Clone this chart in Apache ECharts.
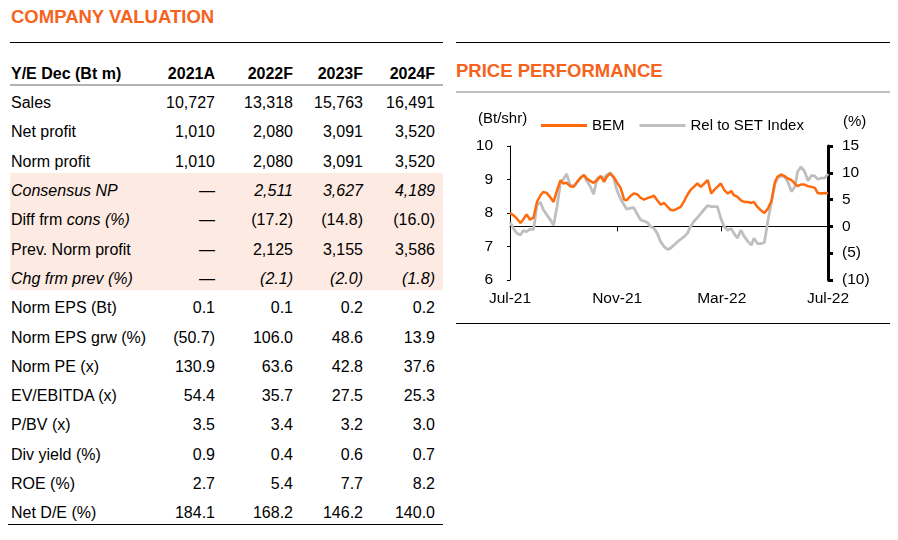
<!DOCTYPE html>
<html>
<head>
<meta charset="utf-8">
<script src="https://cdn.jsdelivr.net/npm/echarts@6/dist/echarts.min.js"></script>
<style>
  body { margin: 0; background: #fff; }
  #page { position: relative; width: 898px; height: 540px; overflow: hidden;
          font-family: "Liberation Sans", Arial, sans-serif; color: #000; }
  .title { position: absolute; font-weight: bold; font-size: 18.5px; color: #F5631D; line-height: 20px; }
  .hline { position: absolute; height: 0; }
  .row { position: absolute; left: 10px; width: 433px; height: 29.3px; line-height: 29.3px;
         padding-top: 3px; box-sizing: border-box; font-size: 16px; white-space: nowrap; }
  .row span { position: absolute; top: 3px; }
  .row .lbl { left: 1px; }
  .row .num { width: 100px; text-align: right; }
  .shade { position: absolute; left: 10px; width: 433px; background: #FDEAE2; }
  #chart { position: absolute; left: 455px; top: 92px; width: 443px; height: 230px; }
</style>
</head>
<body>
<div id="page">
  <div class="title" style="left:11px;top:7px;">COMPANY VALUATION</div>
  <div class="hline" style="left:10px;width:433px;top:42px;border-top:1px solid #000;"></div>
  <div class="title" style="left:456px;top:61px;">PRICE PERFORMANCE</div>
  <div class="hline" style="left:456px;width:434px;top:42px;border-top:1px solid #000;"></div>
  <div class="hline" style="left:456px;width:434px;top:91px;border-top:2px solid #BFBFBF;"></div>
  <div class="hline" style="left:456px;width:434px;top:323px;border-top:1px solid #000;"></div>
  <div id="table"></div>
  <div class="hline" style="left:10px;width:433px;top:84px;border-top:2px solid #B3B3B3;"></div>
  <div class="hline" style="left:8px;width:435px;top:524px;border-top:1px solid #000;"></div>
  <div id="chart"></div>
</div>
<script>
// ---- table data ----
const headers = ['Y/E Dec (Bt m)', '2021A', '2022F', '2023F', '2024F'];
const rowLabels = ['Sales', 'Net profit', 'Norm profit', 'Consensus NP', 'Diff frm <i>cons (%)</i>',
  'Prev. Norm profit', 'Chg frm prev (%)', 'Norm EPS (Bt)', 'Norm EPS grw (%)', 'Norm PE (x)',
  'EV/EBITDA (x)', 'P/BV (x)', 'Div yield (%)', 'ROE (%)', 'Net D/E (%)'];
const y2021 = ['10,727', '1,010', '1,010', '—', '—', '—', '—', '0.1', '(50.7)', '130.9', '54.4', '3.5', '0.9', '2.7', '184.1'];
const y2022 = ['13,318', '2,080', '2,080', '2,511', '(17.2)', '2,125', '(2.1)', '0.1', '106.0', '63.6', '35.7', '3.4', '0.4', '5.4', '168.2'];
const y2023 = ['15,763', '3,091', '3,091', '3,627', '(14.8)', '3,155', '(2.0)', '0.2', '48.6', '42.8', '27.5', '3.2', '0.6', '7.7', '146.2'];
const y2024 = ['16,491', '3,520', '3,520', '4,189', '(16.0)', '3,586', '(1.8)', '0.2', '13.9', '37.6', '25.3', '3.0', '0.7', '8.2', '140.0'];
const shadedRows = [3, 4, 5, 6];
const italicRows = [3, 6];

// ---- chart data ----
const dates = [
  '2021-07-01', '2021-07-05', '2021-07-09', '2021-07-13', '2021-07-16', '2021-07-20', '2021-07-24', '2021-07-28',
  '2021-08-01', '2021-08-05', '2021-08-08', '2021-08-12', '2021-08-16', '2021-08-20', '2021-08-24', '2021-08-28',
  '2021-08-31', '2021-09-04', '2021-09-08', '2021-09-12', '2021-09-16', '2021-09-20', '2021-09-24', '2021-09-27',
  '2021-10-01', '2021-10-05', '2021-10-09', '2021-10-13', '2021-10-17', '2021-10-20', '2021-10-24', '2021-10-28',
  '2021-11-01', '2021-11-05', '2021-11-09', '2021-11-12', '2021-11-16', '2021-11-20', '2021-11-24', '2021-11-28',
  '2021-12-02', '2021-12-06', '2021-12-09', '2021-12-13', '2021-12-17', '2021-12-21', '2021-12-25', '2021-12-29',
  '2022-01-01', '2022-01-05', '2022-01-09', '2022-01-13', '2022-01-17', '2022-01-21', '2022-01-24', '2022-01-28',
  '2022-02-01', '2022-02-05', '2022-02-09', '2022-02-13', '2022-02-17', '2022-02-20', '2022-02-24', '2022-02-28',
  '2022-03-04', '2022-03-08', '2022-03-12', '2022-03-15', '2022-03-19', '2022-03-23', '2022-03-27', '2022-03-31',
  '2022-04-04', '2022-04-07', '2022-04-11', '2022-04-15', '2022-04-19', '2022-04-23', '2022-04-27', '2022-05-01',
  '2022-05-04', '2022-05-08', '2022-05-12', '2022-05-16', '2022-05-20', '2022-05-24', '2022-05-27', '2022-05-31',
  '2022-06-04', '2022-06-08', '2022-06-12', '2022-06-16', '2022-06-19', '2022-06-23', '2022-06-27', '2022-07-01'
];
const bem = [
  8.00, 7.93, 7.83, 7.70, 7.80, 7.96, 7.80, 7.87, 8.33, 8.53,
  8.63, 8.60, 8.48, 8.33, 8.68, 8.98, 8.88, 8.90, 8.80, 8.78,
  8.93, 9.06, 9.13, 9.03, 8.96, 8.90, 8.98, 9.10, 8.93, 9.08,
  9.18, 9.08, 8.90, 8.75, 8.40, 8.38, 8.50, 8.58, 8.56, 8.45,
  8.40, 8.45, 8.47, 8.52, 8.38, 8.25, 8.30, 8.18, 8.10, 8.08,
  8.13, 8.18, 8.36, 8.56, 8.68, 8.78, 8.88, 8.78, 8.88, 8.98,
  8.58, 8.68, 8.78, 8.88, 8.68, 8.58, 8.66, 8.53, 8.48, 8.38,
  8.33, 8.33, 8.30, 8.33, 8.18, 8.08, 8.00, 8.13, 8.35, 8.92,
  9.08, 9.15, 9.10, 9.03, 8.98, 8.88, 8.80, 8.85, 8.85, 8.80,
  8.78, 8.75, 8.60, 8.58, 8.60, 8.58
];
const relSet = [
  0.8, -0.4, -1.3, -1.6, -0.8, -1.0, -0.5, -0.6, 4.0, 4.5,
  3.2, 2.2, 1.3, 0.2, 3.7, 8.3, 8.7, 9.8, 7.7, 7.5,
  8.2, 9.0, 9.6, 8.5, 7.5, 6.0, 9.0, 9.3, 9.0, 9.6,
  10.0, 9.0, 6.6, 5.1, 4.0, 3.2, 3.4, 3.5, 2.3, 1.2,
  1.0, 0.7, 0.0, -0.3, -1.3, -2.9, -3.8, -4.3, -4.1, -3.5,
  -2.9, -2.4, -1.9, -1.2, -0.1, 0.9, 1.6, 2.4, 3.2, 3.9,
  3.7, 3.7, 3.7, 1.5, -0.1, -0.7, -0.4, -1.3, -2.2, -0.7,
  -1.9, -2.8, -3.5, -2.2, -3.2, -3.2, -3.0, 1.0, 4.5, 7.8,
  9.0, 9.4, 9.3, 8.3, 6.5, 7.4, 10.2, 11.1, 10.3, 8.5,
  9.5, 9.4, 8.8, 9.0, 9.0, 9.8
];
const xTicks = ['2021-07-01', '2021-11-01', '2022-03-01', '2022-07-01'];
const xTickLabels = ['Jul-21', 'Nov-21', 'Mar-22', 'Jul-22'];

// ---- build table ----
const colRight = [215, 293, 363, 435];
const rowTop = k => 85.1 + k * 29.3;
let html = '';
html += '<div class="shade" style="top:' + rowTop(shadedRows[0]).toFixed(1) + 'px;height:' +
  (shadedRows.length * 29.3).toFixed(1) + 'px;"></div>';
const cell = (text, col, style) =>
  '<span class="num" style="left:' + (colRight[col] - 10 - 100) + 'px;' + (style || '') + '">' + text + '</span>';
html += '<div class="row" style="top:' + (rowTop(-1) + 0.6).toFixed(1) + 'px;font-weight:bold;">' +
  '<span class="lbl">' + headers[0] + '</span>' +
  headers.slice(1).map((h, i) => cell(h, i)).join('') + '</div>';
rowLabels.forEach((label, k) => {
  const it = italicRows.indexOf(k) >= 0 ? 'font-style:italic;' : '';
  html += '<div class="row" style="top:' + rowTop(k).toFixed(1) + 'px;' + it + '">' +
    '<span class="lbl">' + label + '</span>' +
    cell(y2021[k], 0, y2021[k] === '—' ? 'font-style:normal;' : '') + cell(y2022[k], 1) +
    cell(y2023[k], 2) + cell(y2024[k], 3) + '</div>';
});
document.getElementById('table').innerHTML = html;

// ---- chart ----
const chart = echarts.init(document.getElementById('chart'));
const ts = s => Date.UTC(+s.slice(0, 4), +s.slice(5, 7) - 1, +s.slice(8, 10));
const tickTs = xTicks.map(ts);
const fontFamily = '"Liberation Sans", Arial, sans-serif';
const pct = v => (v < 0 ? '(' + Math.abs(v) + ')' : String(v));

chart.setOption({
  animation: false,
  textStyle: { fontFamily: fontFamily },
  grid: { left: 55, top: 54, width: 318, height: 134, containLabel: false },
  legend: {
    left: 81, top: 21, itemGap: 15, itemWidth: 46, itemHeight: 3,
    icon: 'rect',
    textStyle: { fontSize: 15, color: '#000', fontFamily: fontFamily },
    data: ['BEM', 'Rel to SET Index']
  },
  graphic: [
    { type: 'text', left: 23, top: 19, style: { text: '(Bt/shr)', fontSize: 15, fill: '#000', fontFamily: fontFamily } },
    { type: 'text', left: 388, top: 22, style: { text: '(%)', fontSize: 15, fill: '#000', fontFamily: fontFamily } }
  ],
  xAxis: {
    type: 'value',
    min: tickTs[0],
    max: tickTs[tickTs.length - 1],
    splitLine: { show: false },
    axisLine: { lineStyle: { color: '#000', width: 1 } },
    axisTick: { show: true, length: 5, lineStyle: { color: '#000' }, customValues: tickTs },
    axisLabel: {
      customValues: tickTs,
      showMinLabel: true, showMaxLabel: true,
      margin: 11, fontSize: 15.5, color: '#000',
      formatter: v => xTickLabels[tickTs.indexOf(v)] || ''
    }
  },
  yAxis: [
    {
      type: 'value', position: 'left', min: 6, max: 10, interval: 1,
      splitLine: { show: false },
      axisLine: { show: true, lineStyle: { color: '#000', width: 1 } },
      axisTick: { show: true, length: 3, lineStyle: { color: '#000' } },
      axisLabel: { margin: 17, fontSize: 15.5, color: '#000' }
    },
    {
      type: 'value', position: 'right', min: -10, max: 15, interval: 5,
      splitLine: { show: false },
      axisLine: { show: true, lineStyle: { color: '#000', width: 3 } },
      axisTick: { show: true, length: 5, lineStyle: { color: '#000', width: 3 } },
      axisLabel: { margin: 14, fontSize: 15.5, color: '#000', formatter: pct }
    }
  ],
  series: [
    {
      name: 'Rel to SET Index', type: 'line', yAxisIndex: 1, z: 2,
      showSymbol: false, symbol: 'none',
      lineStyle: { color: '#BFBFBF', width: 2.8 }, itemStyle: { color: '#BFBFBF' },
      data: dates.map((d, i) => [ts(d), relSet[i]])
    },
    {
      name: 'BEM', type: 'line', yAxisIndex: 0, z: 3,
      showSymbol: false, symbol: 'none',
      lineStyle: { color: '#FF6A0D', width: 2.5 }, itemStyle: { color: '#FF6A0D' },
      data: dates.map((d, i) => [ts(d), bem[i]])
    }
  ]
});
</script>
</body>
</html>
